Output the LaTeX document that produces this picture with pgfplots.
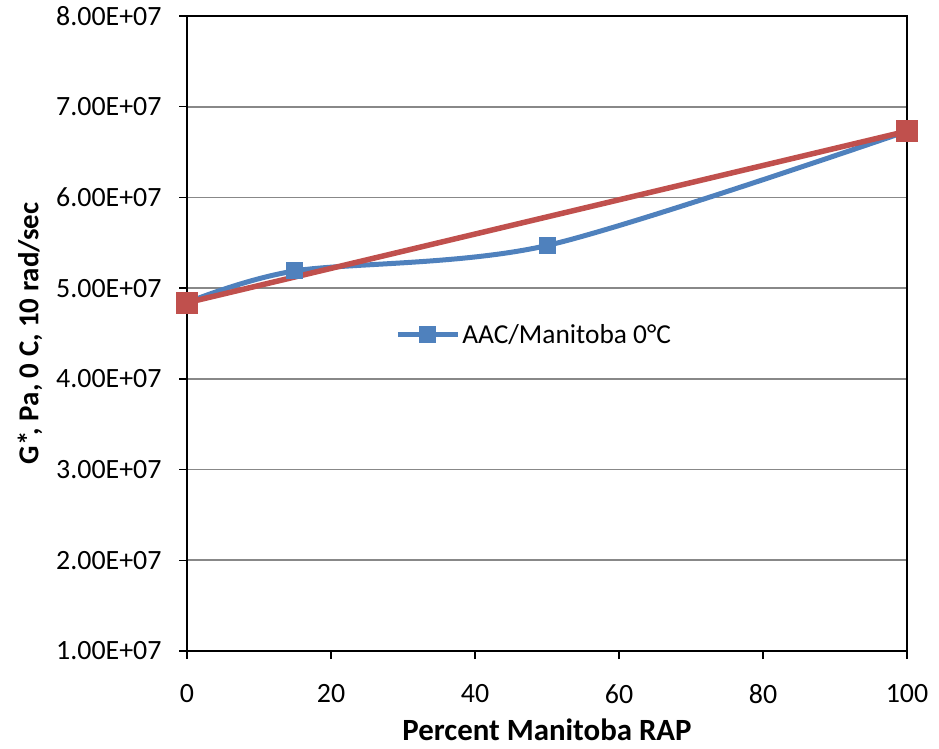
\documentclass[border=0pt]{standalone}
\usepackage{pgfplots}
\pgfplotsset{compat=1.18}
\usepackage{fontspec}
\setmainfont{Carlito}
\definecolor{xlblue}{HTML}{4F81BD}
\definecolor{xlred}{HTML}{C0504D}
\definecolor{xlgrid}{HTML}{888888}
\begin{document}
\begin{tikzpicture}
\begin{axis}[
    scale only axis,
    width=720bp, height=635bp,
    xmin=0, xmax=100, ymin=1e7, ymax=8e7,
    xtick={0,20,...,100},
    ytick={1e7,2e7,3e7,4e7,5e7,6e7,7e7,8e7},
    yticklabels={1.00E+07,2.00E+07,3.00E+07,4.00E+07,5.00E+07,6.00E+07,7.00E+07,8.00E+07},
    scaled y ticks=false,
    /pgf/number format/assume math mode=true,
    ymajorgrids,
    major grid style={xlgrid, line width=1.8bp},
    axis line style={black, line width=2bp},
    tick style={black, line width=1.5bp},
    tick align=outside,
    major tick length=8bp,
    xtick pos=bottom, ytick pos=left,
    ticklabel style={font=\fontsize{28}{32}\selectfont},
    xticklabel style={yshift=-22bp},
    yticklabel style={xshift=-14bp},
    xlabel={\textbf{Percent Manitoba RAP}},
    ylabel={\textbf{G*\kern-0.12em, Pa, 0 C, 10 rad/sec}},
    xlabel style={font=\fontsize{31}{35}\selectfont,
        at={(axis description cs:0.5,0)}, anchor=center, yshift=-79bp},
    ylabel style={font=\fontsize{29}{33}\selectfont,
        at={(axis description cs:0,0.5)}, anchor=center, yshift=157bp},
    legend style={draw=none, fill=none, at={(0.289,0.498)}, anchor=west,
        font=\fontsize{27.5}{32}\selectfont, inner sep=0pt,
        /tikz/every even column/.append style={column sep=0pt}},
    legend image code/.code={
        \draw[mark repeat=2, mark phase=2, #1]
            plot coordinates {(0bp,0bp) (30bp,0bp) (60bp,0bp)};},
    clip=false,
]
\addplot[xlblue, line width=5bp, smooth, mark=square*, mark size=8bp,
    mark options={line width=0bp}]
    coordinates {(0,4.84e7) (15,5.19e7) (50,5.47e7) (100,6.73e7)};
\addlegendentry{AAC/Manitoba 0\textdegree C}
\addplot[xlred, line width=5.5bp, mark=square*, mark size=10.5bp,
    mark options={line width=0bp}, forget plot]
    coordinates {(0,4.84e7) (100,6.73e7)};
\end{axis}
\pgfresetboundingbox
\path ([shift={(-187bp,-98bp)}]current axis.south west)
    rectangle ([shift={(32bp,16bp)}]current axis.north east);
\end{tikzpicture}
\end{document}
